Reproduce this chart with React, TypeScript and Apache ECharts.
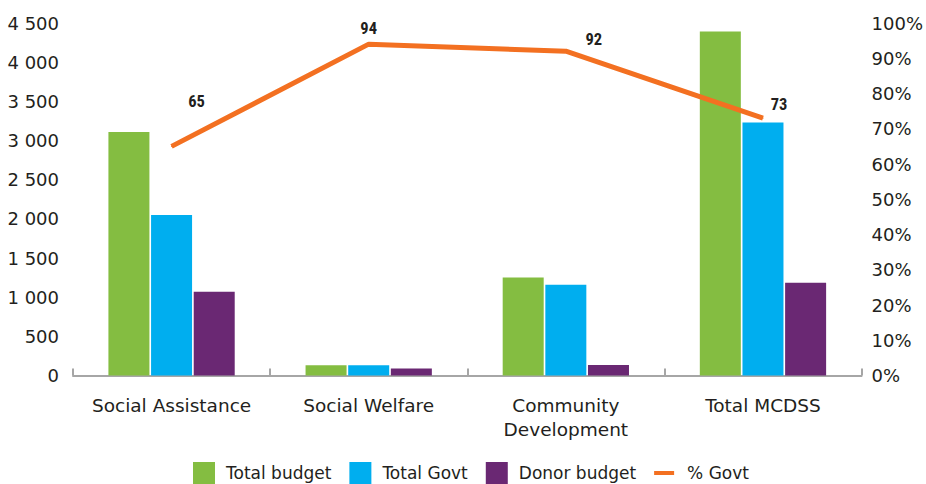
import React, { useEffect, useRef } from "react";
import * as echarts from "echarts";

const categories = ["Social Assistance", "Social Welfare", "Community\nDevelopment", "Total MCDSS"];
const totalBudget = [3110, 130, 1250, 4390];
const totalGovt = [2050, 130, 1160, 3230];
const donorBudget = [1070, 90, 135, 1185];
const pctGovt = [65, 94, 92, 73];
const leftTicks = { min: 0, max: 4500, interval: 500 };
const rightTicks = { min: 0, max: 100, interval: 10 };

const GREEN = "#84BD41";
const BLUE = "#00AEEF";
const PURPLE = "#6A2873";
const ORANGE = "#F37021";
const TEXT = "#231F20";
const FONT = "'DejaVu Sans', Verdana, sans-serif";

const labelOffsets = [
  [25, -31],
  [0, -2],
  [28, 2],
  [16, 0],
];

const squareIcon = "path://M0,0H22V22H0Z M28,22";
const lineIcon = "path://M0,0 M0,9H20V13H0Z M28,22";

export default function App() {
  const ref = useRef<HTMLDivElement>(null);
  useEffect(() => {
    if (!ref.current) return;
    const chart = echarts.init(ref.current, null, { renderer: "svg" });
    const barCommon = {
      type: "bar" as const,
      barWidth: "20.8%",
      barGap: "4%",
      yAxisIndex: 0,
    };
    chart.setOption({
      animation: false,
      textStyle: { fontFamily: FONT, color: TEXT },
      grid: { left: 73, right: 64, top: 23, bottom: 108.5, containLabel: false },
      legend: {
        top: 462,
        left: 193,
        padding: 0,
        itemWidth: 28,
        itemHeight: 22,
        itemGap: 18,
        textStyle: { fontFamily: FONT, fontSize: 17, color: TEXT, fontWeight: "normal" },
        data: [
          { name: "Total budget", icon: squareIcon },
          { name: "Total Govt", icon: squareIcon },
          { name: "Donor budget", icon: squareIcon },
          { name: "% Govt", icon: lineIcon },
        ],
      },
      xAxis: {
        type: "category",
        data: categories,
        axisLine: { show: true, lineStyle: { color: "#A6A6A6", width: 2 } },
        axisTick: { show: true, inside: true, length: 7, lineStyle: { color: "#A6A6A6", width: 2 } },
        axisLabel: {
          fontFamily: FONT,
          fontSize: 18.5,
          lineHeight: 24,
          color: TEXT,
          margin: 18,
          interval: 0,
        },
      },
      yAxis: [
        {
          type: "value",
          min: leftTicks.min,
          max: leftTicks.max,
          interval: leftTicks.interval,
          axisLine: { show: false },
          axisTick: { show: false },
          splitLine: { show: false },
          axisLabel: {
            fontFamily: FONT,
            fontSize: 18,
            color: TEXT,
            margin: 14,
            formatter: (v: number) => String(v).replace(/\B(?=(\d{3})+(?!\d))/g, " "),
          },
        },
        {
          type: "value",
          min: rightTicks.min,
          max: rightTicks.max,
          interval: rightTicks.interval,
          position: "right",
          axisLine: { show: false },
          axisTick: { show: false },
          splitLine: { show: false },
          axisLabel: {
            fontFamily: FONT,
            fontSize: 18,
            color: TEXT,
            margin: 10,
            formatter: "{value}%",
          },
        },
      ],
      series: [
        { ...barCommon, name: "Total budget", data: totalBudget, itemStyle: { color: GREEN } },
        { ...barCommon, name: "Total Govt", data: totalGovt, itemStyle: { color: BLUE } },
        { ...barCommon, name: "Donor budget", data: donorBudget, itemStyle: { color: PURPLE } },
        {
          type: "line",
          name: "% Govt",
          yAxisIndex: 1,
          symbol: "circle",
          symbolSize: 1,
          showSymbol: true,
          itemStyle: { color: ORANGE },
          lineStyle: { color: ORANGE, width: 5 },
          data: pctGovt.map((v, i) => ({
            value: v,
            label: { offset: labelOffsets[i] },
          })),
          label: {
            show: true,
            position: "top",
            fontFamily: "'Liberation Sans Narrow', 'Arial Narrow', 'Roboto Condensed', sans-serif",
            fontSize: 16.5,
            fontWeight: "bold",
            color: TEXT,
          },
          z: 5,
        },
      ],
    });
    return () => chart.dispose();
  }, []);
  return (
    <div
      ref={ref}
      style={{ position: "fixed", left: 0, top: 0, width: 926, height: 484, background: "#fff" }}
    />
  );
}
